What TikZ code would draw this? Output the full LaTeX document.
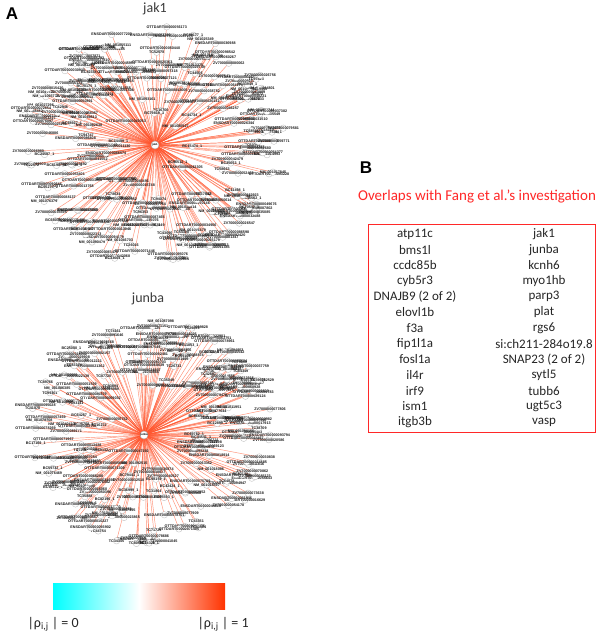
\documentclass[tikz,border=0pt]{standalone}
\usepackage{fontspec}
\setmainfont{Carlito}
\newfontfamily\netfont{Liberation Sans}
\newfontfamily\panelfont{Liberation Sans}

\definecolor{edgered}{RGB}{255,85,45}
\definecolor{barred}{RGB}{255,51,0}
\definecolor{barcyan}{RGB}{0,255,255}
\definecolor{boxred}{RGB}{255,40,40}
\definecolor{titlegray}{RGB}{60,60,60}

% tiny transcript names of the network nodes
\newcommand\netlabel[2]{\ifcase#1\or ZV70000000#2\or OTTDART000000#2\or
  ENSDART000000#2\or TC#2\or NM\_0010#2\or ZV70000000#2\or
  OTTDART000000#2\or BC#2\_1\fi}

\tikzset{
  netnode/.style={circle, draw=gray!50, fill=white, line width=0.35pt,
    minimum size=6.5pt, inner sep=0pt},
  netlbl/.style={font=\netfont\bfseries\fontsize{3.7}{3.7}\selectfont,
    inner sep=0pt, text=black!90},
  hubnode/.style={circle, draw=gray!70, fill=white, line width=0.4pt,
    minimum size=8pt, inner sep=0pt,
    font=\netfont\bfseries\fontsize{2.8}{2.8}\selectfont},
  edge/.style={draw=edgered, line width=0.45pt, opacity=0.65},
  nettitle/.style={font=\fontsize{14}{16}\selectfont, text=titlegray},
  panel/.style={font=\panelfont\bfseries\fontsize{17}{19}\selectfont},
  gene/.style={font=\fontsize{13}{15}\selectfont, text=black!85},
  barlbl/.style={font=\fontsize{14}{16}\selectfont, text=black!85}
}

\begin{document}
\begin{tikzpicture}[x=1pt, y=-1pt]
  \fill[white] (0,0) rectangle (600,635);
  \useasboundingbox (0,0) rectangle (600,635);

  % Panel A
  \node[panel] (panelA) at (12,14) {A};

  % jak1 network: spokes first, then the nodes on top
  \node[nettitle] (jaktitle) at (155,9) {jak1};
  \coordinate (jakc) at (155,145);
  \pgfmathsetseed{1207}
  \foreach \i in {1,...,240}{
    \pgfmathsetmacro\ang{360*rnd}
    \pgfmathsetmacro\rad{0.2+0.8*sqrt(rnd)}
    \coordinate (jakp\i) at ({155+132*\rad*cos(\ang)}, {146+120*\rad*sin(\ang)});
    \draw[edge] (jakc) -- (jakp\i);
  }
  \foreach \i in {1,...,240}{
    \pgfmathtruncatemacro\kind{random(1,8)}
    \pgfmathtruncatemacro\num{random(10000,99999)}
    \node[netnode, label={[netlbl]center:\netlabel{\kind}{\num}}] (jak\i)
      at (jakp\i) {};
  }
  \node[hubnode] (jakhub) at (jakc) {jak1};

  % junba network
  \node[nettitle] (juntitle) at (148,299) {junba};
  \coordinate (junc) at (144,435);
  \pgfmathsetseed{4711}
  \foreach \i in {1,...,230}{
    \pgfmathsetmacro\ang{360*rnd}
    \pgfmathsetmacro\rad{0.2+0.8*sqrt(rnd)}
    \coordinate (junp\i) at ({150+124*\rad*cos(\ang)}, {433+112*\rad*sin(\ang)});
    \draw[edge] (junc) -- (junp\i);
  }
  \foreach \i in {1,...,230}{
    \pgfmathtruncatemacro\kind{random(1,8)}
    \pgfmathtruncatemacro\num{random(10000,99999)}
    \node[netnode, label={[netlbl]center:\netlabel{\kind}{\num}}] (jun\i)
      at (junp\i) {};
  }
  \node[hubnode] (junhub) at (junc) {junba};

  % Colour bar
  \shade[left color=barcyan, right color=white] (53,583) rectangle (139,609);
  \shade[left color=white, right color=barred] (139,583) rectangle (225,609);
  \node[barlbl, anchor=west] (rho0) at (24,624) {|ρ\textsubscript{i,j} | = 0};
  \node[barlbl, anchor=west] (rho1) at (194,624) {|ρ\textsubscript{i,j} | = 1};

  % Panel B
  \node[panel] (panelB) at (366,168) {B};
  \node[font=\fontsize{15}{17}\selectfont, text=boxred] (overlaps) at (477,196)
    {Overlaps with Fang et al.’s investigation};
  \draw[boxred, line width=1pt] (368,224) rectangle (595,432);
  \foreach \g [count=\k] in {atp11c, bms1l, ccdc85b, cyb5r3, DNAJB9 (2 of 2),
      elovl1b, f3a, fip1l1a, fosl1a, il4r, irf9, ism1, itgb3b}
    \node[gene] (gl\k) at (415, {234+15.67*(\k-1)}) {\g};
  \foreach \g [count=\k] in {jak1, junba, kcnh6, myo1hb, parp3, plat, rgs6,
      si:ch211-284o19.8, SNAP23 (2 of 2), sytl5, tubb6, ugt5c3, vasp}
    \node[gene] (gr\k) at (544, {234+15.67*(\k-1)}) {\g};
\end{tikzpicture}
\end{document}
